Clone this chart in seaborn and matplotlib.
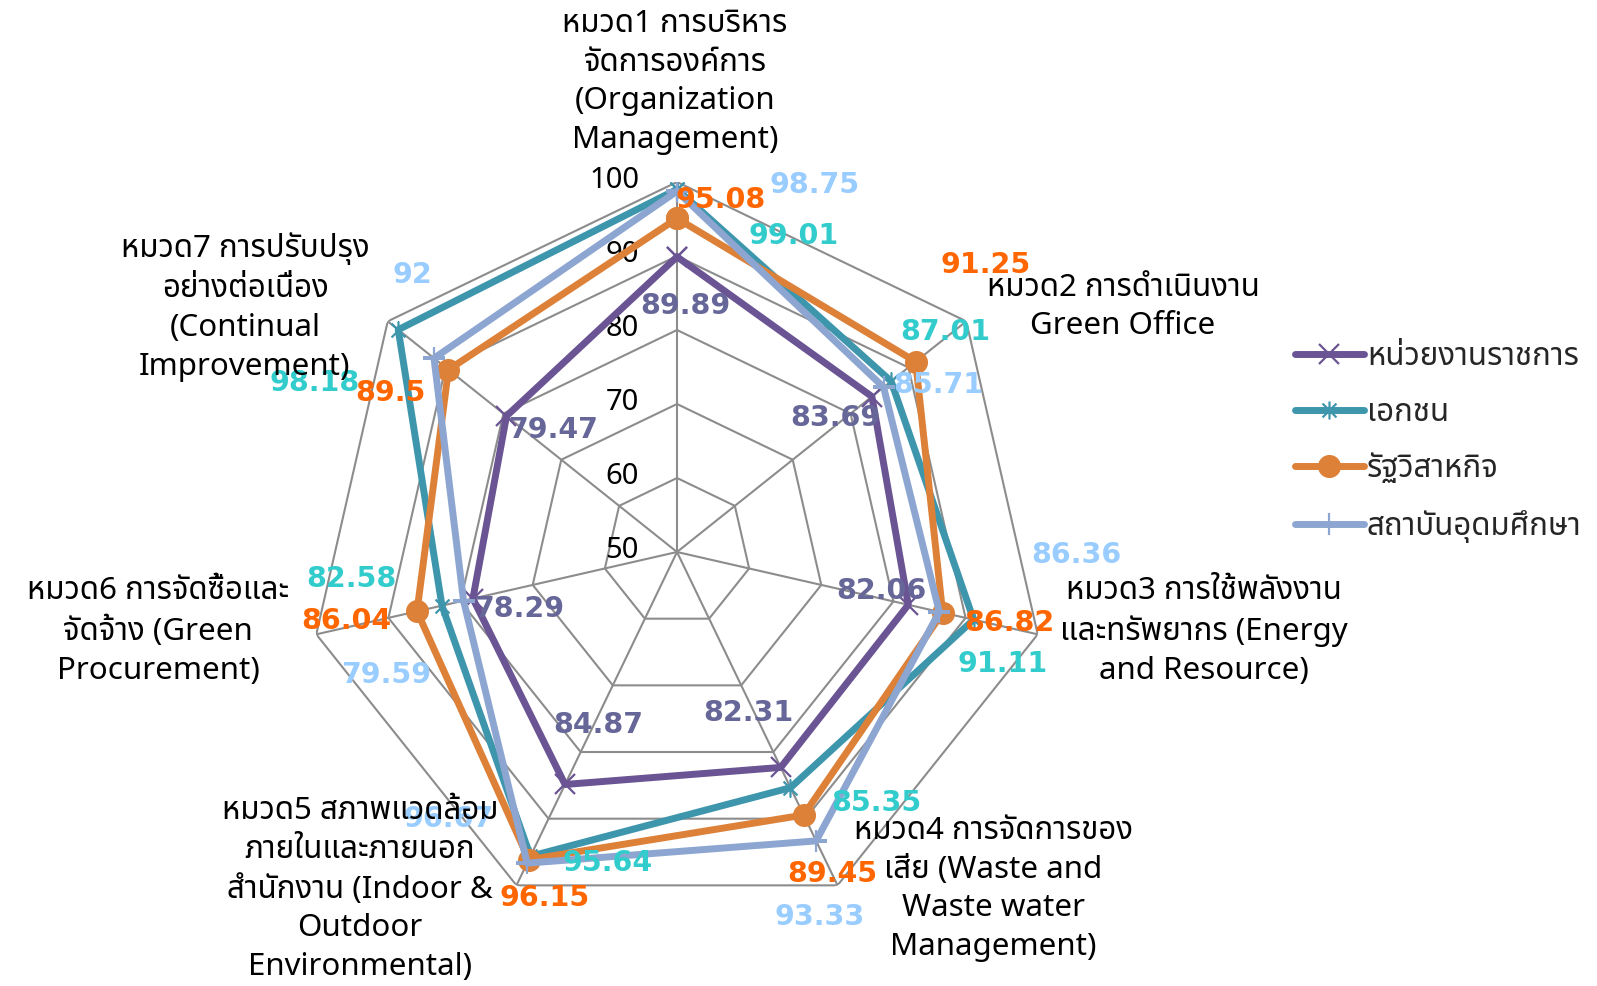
import numpy as np
import matplotlib
matplotlib.use("Agg")
import matplotlib.pyplot as plt
import seaborn as sns
from matplotlib import font_manager as fm
from matplotlib.ft2font import FT2Font
from matplotlib.lines import Line2D
from matplotlib.path import Path

# ---------------- data ----------------
categories = [
    "หมวด1 การบริหาร\nจัดการองค์การ\n(Organization\nManagement)",
    "หมวด2 การดำเนินงาน\nGreen Office",
    "หมวด3 การใช้พลังงาน\nและทรัพยากร (Energy\nand Resource)",
    "หมวด4 การจัดการของ\nเสีย (Waste and\nWaste water\nManagement)",
    "หมวด5 สภาพแวดล้อม\nภายในและภายนอก\nสำนักงาน (Indoor &\nOutdoor\nEnvironmental)",
    "หมวด6 การจัดซื้อและ\nจัดจ้าง (Green\nProcurement)",
    "หมวด7 การปรับปรุง\nอย่างต่อเนื่อง\n(Continual\nImprovement)",
]
series_names = ["หน่วยงานราชการ", "เอกชน", "รัฐวิสาหกิจ", "สถาบันอุดมศึกษา"]
gov = [89.89, 83.69, 82.06, 82.31, 84.87, 78.29, 79.47]
private = [99.01, 87.01, 91.11, 85.35, 95.64, 82.58, 98.18]
state_ent = [95.08, 91.25, 86.82, 89.45, 96.15, 86.04, 89.5]
university = [98.75, 85.71, 86.36, 93.33, 96.67, 79.59, 92]
label_texts = [
    ["89.89", "83.69", "82.06", "82.31", "84.87", "78.29", "79.47"],
    ["99.01", "87.01", "91.11", "85.35", "95.64", "82.58", "98.18"],
    ["95.08", "91.25", "86.82", "89.45", "96.15", "86.04", "89.5"],
    ["98.75", "85.71", "86.36", "93.33", "96.67", "79.59", "92"],
]
r_ticks = [50, 60, 70, 80, 90, 100]

# ---------------- styles / positions ----------------
W, H = 1597, 986
line_colors = ["#6B5493", "#3E96AD", "#DD8139", "#8DA6D1"]
label_colors = ["#666699", "#33CCCC", "#FF6600", "#99CCFF"]
# label offsets from their point, in pixels (dx right, dy down)
label_offsets = [
    [(8, 49), (-37, 21), (-27, -14), (-32, -54), (33, -59), (46, 10), (47, 14)],
    [(117, 47), (54, -49), (29, 44), (86, 15), (77, 7), (-91, -27), (-84, 53)],
    [(44, -18), (70, -97), (67, 10), (29, 59), (16, 38), (-71, 10), (-58, 23)],
    [(138, -6), (55, -2), (137, -57), (4, 76), (-79, -44), (-77, 74), (-22, -83)],
]
cat_label_pos = [(675, 82), (1123, 307), (1204, 631), (993, 889),
                 (360, 889), (158, 631), (245, 307)]

# star (asterisk) marker like Excel's
star = Path([(-1, -1), (1, 1), (-1, 1), (1, -1), (0, -1.3), (0, 1.3)],
            [Path.MOVETO, Path.LINETO, Path.MOVETO, Path.LINETO, Path.MOVETO, Path.LINETO])
markers = ["x", star, "o", "+"]
msizes = [14, 13, 15, 16]

sns.set_theme(style="white")

# find a font with Thai glyphs
thai_font = None
cands = []
for f in fm.fontManager.ttflist:
    try:
        cm = FT2Font(f.fname).get_charmap()
    except Exception:
        continue
    if 0x0E2B in cm and 0x0E14 in cm:
        cands.append(f.name)
pref = ["Tahoma", "Noto Sans Thai", "Waree", "Loma", "Garuda", "Sarabun"]
for p in pref:
    if p in cands:
        thai_font = p
        break
if thai_font is None and cands:
    thai_font = sorted(set(cands))[0]
fams = ["Noto Sans"] + ([thai_font] if thai_font else []) + ["DejaVu Sans"]
plt.rcParams["font.family"] = fams

FS = 22.5

fig = plt.figure(figsize=(W / 100, H / 100), dpi=100)
cx, cy, rad = 677, 552, 370
ax = fig.add_axes([(cx - rad) / W, (H - cy - rad) / H, 2 * rad / W, 2 * rad / H],
                  projection="polar")
ax.set_theta_offset(np.pi / 2)
ax.set_theta_direction(-1)
ax.set_ylim(50, 100)
ax.grid(False)
ax.spines["polar"].set_visible(False)
ax.set_xticks([])
ax.set_yticks([])
ax.set_facecolor("none")

n = len(categories)
theta = np.arange(n) * 2 * np.pi / n
theta_c = np.append(theta, 2 * np.pi)

grid_c = "#8C8C8C"
for lv in r_ticks[1:]:
    ax.plot(theta_c, [lv] * (n + 1), color=grid_c, lw=1.5, zorder=1)
for t in theta:
    ax.plot([t, t], [50, 100], color=grid_c, lw=1.5, zorder=1)

for lv in r_ticks:
    ax.annotate(str(lv), xy=(0, lv), xytext=(-38, 2), textcoords="offset pixels",
                ha="right", va="center", fontsize=21, color="black", zorder=2)

all_series = [gov, private, state_ent, university]
for i, vals in enumerate(all_series):
    vc = np.append(vals, vals[0])
    sns.lineplot(x=theta_c, y=vc, ax=ax, sort=False, estimator=None,
                 color=line_colors[i], linewidth=5, marker=markers[i],
                 markersize=msizes[i], markeredgewidth=1.6,
                 markeredgecolor=line_colors[i], markerfacecolor=line_colors[i],
                 zorder=3 + i, legend=False)

for i, vals in enumerate(all_series):
    for k, v in enumerate(vals):
        dx, dy = label_offsets[i][k]
        ax.annotate(label_texts[i][k], xy=(theta[k], v), xytext=(dx, -dy),
                    textcoords="offset pixels", ha="center", va="center",
                    fontsize=20.5, fontweight="bold", color=label_colors[i], zorder=10,
                    annotation_clip=False, family="DejaVu Sans")

for k, lab in enumerate(categories):
    x, y = cat_label_pos[k]
    fig.text(x / W, 1 - y / H, lab, ha="center", va="center", fontsize=FS,
             color="black", linespacing=1.38, multialignment="center")

handles = [Line2D([], [], color=line_colors[i], lw=5, marker=markers[i],
                  markersize=msizes[i], markeredgewidth=1.6,
                  markeredgecolor=line_colors[i], markerfacecolor=line_colors[i])
           for i in range(4)]
fig.legend(handles, series_names, loc="upper left",
           bbox_to_anchor=(1295 / W, 1 - 342 / H), frameon=False, fontsize=FS,
           handlelength=2.2, handletextpad=0.1, labelspacing=0.82,
           borderpad=0, borderaxespad=0)

fig.savefig("out.png", dpi=100)
